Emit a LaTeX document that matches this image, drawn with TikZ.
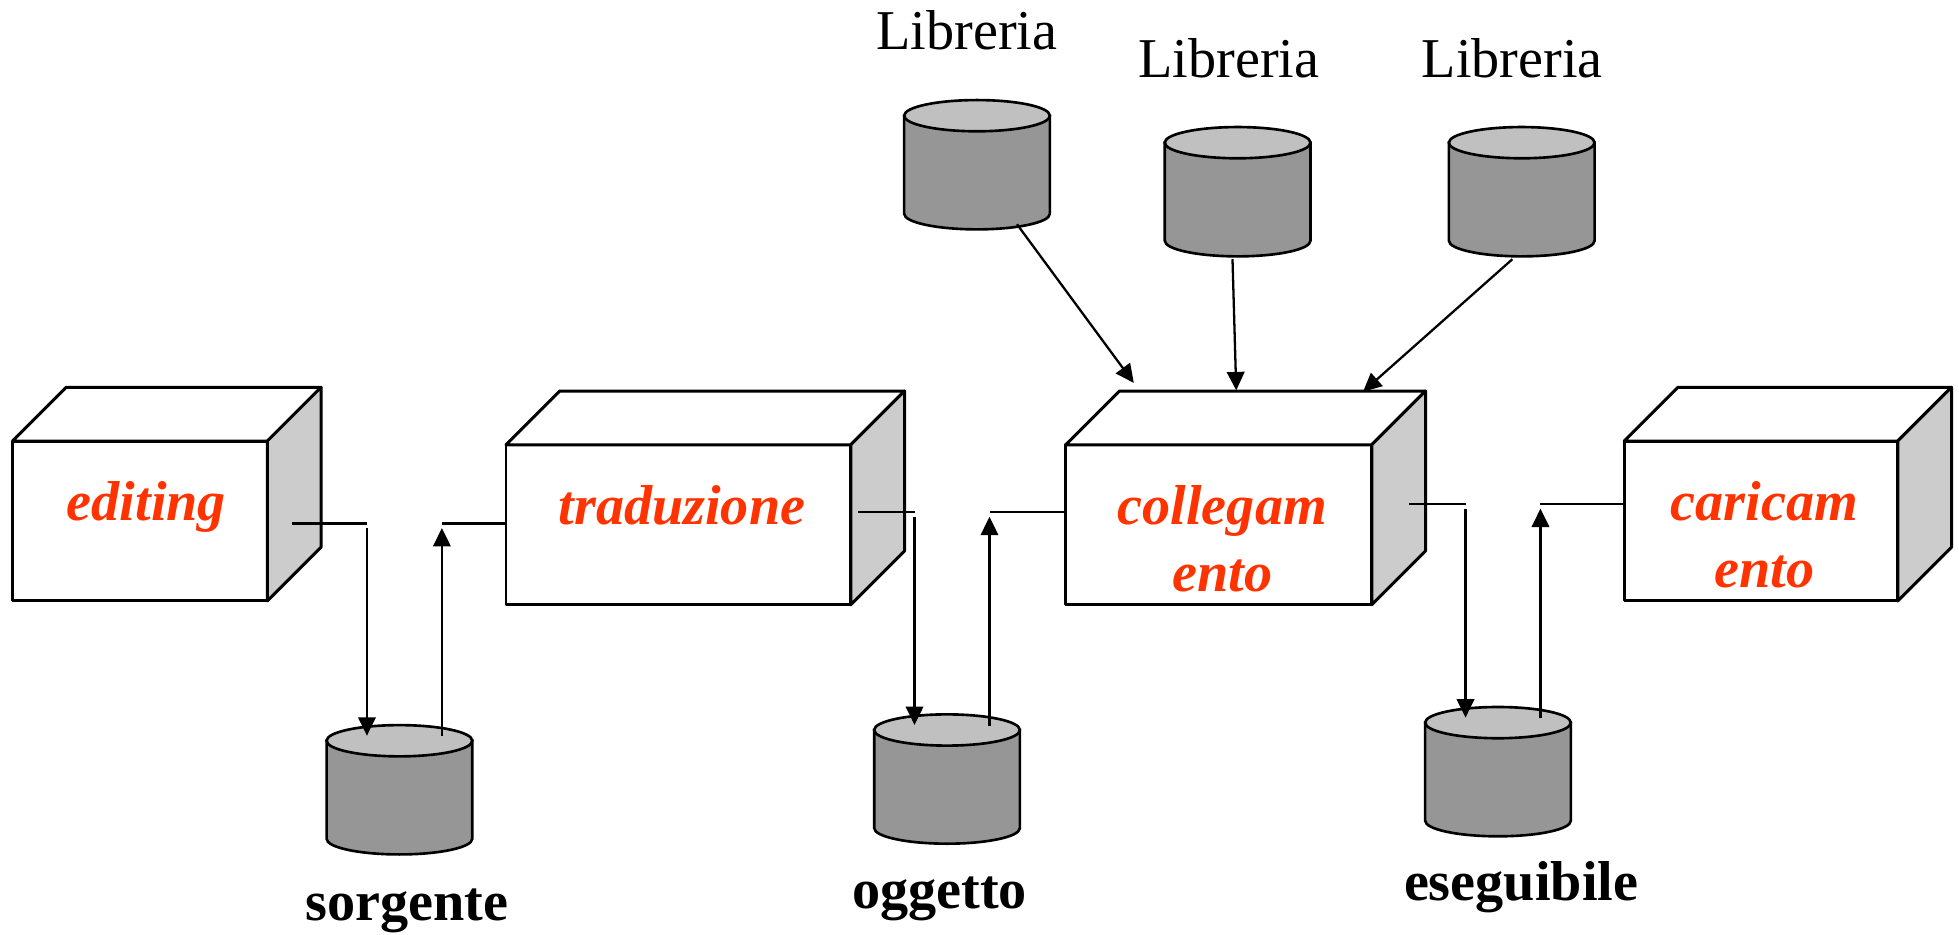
\documentclass[tikz,border=0pt]{standalone}
\usepackage{fontspec}
\setmainfont{Liberation Serif}
\usetikzlibrary{arrows.meta}
\definecolor{jobred}{RGB}{255,51,0}
\definecolor{sidegray}{RGB}{204,204,204}
\definecolor{diskgray}{RGB}{150,150,150}
\definecolor{disktopgray}{RGB}{192,192,192}
\tikzset{
  face/.style={draw, line width=0.85pt, fill=white, line join=round},
  sideface/.style={face, fill=sidegray},
  disk/.style={draw, line width=0.75pt, fill=diskgray},
  disktop/.style={disk, fill=disktopgray},
  wire/.style={line width=0.65pt},
  flow/.style={wire, -{Triangle[length=1.85mm,width=1.75mm]}},
  job/.style={anchor=base, inner sep=0pt, xshift=0.35mm, text=jobred, font=\fontsize{16}{19}\selectfont\bfseries\itshape},
  store/.style={anchor=base, inner sep=0pt, font=\fontsize{16}{19}\selectfont\bfseries},
  lib/.style={anchor=base, inner sep=0pt, font=\fontsize{16}{19}\selectfont},
}

\begin{document}
\begin{tikzpicture}[x=0.125mm, y=-0.125mm]
  \useasboundingbox (0,0) rectangle (1568,748);

  % boxes: front, top and side face
  \foreach \n/\x/\y/\w in {edit/10/353/204, trad/405/356/276, coll/853/356/245, car/1300/353/219} {
    \draw [face] (\x,\y) rectangle ++(\w,128);
    \draw [face] (\x,\y) -- ++(43,-43) -- ++(\w,0) -- ++(-43,43) -- cycle;
    \draw [sideface] (\x+\w,\y) -- ++(43,-43) -- ++(0,128) -- ++(-43,43) -- cycle;
    \coordinate (\n) at (\x+\w/2,\y+64);
  }

  \node [job, xshift=0.3mm] (editing) at (edit) {editing};
  \node [job] (traduzione) at (trad) {traduzione};
  \node [job] (collegamento) at (coll) {\begin{tabular}[t]{@{}c@{}}collegam\\ento\end{tabular}};
  \node [job] (caricamento) at (car) {\begin{tabular}[t]{@{}c@{}}caricam\\ento\end{tabular}};

  % disks
  \foreach \n/\cx/\cy in {lib1/782/92.6, lib2/990.6/114.2, lib3/1218/114.2, src/319.7/592.9, obj/758/584.3, exe/1199/578.4} {
    \draw [disk] (\cx-58.3,\cy) -- ++(0,78.5) arc [start angle=180, end angle=0, x radius=58.3, y radius=12.5] -- ++(0,-78.5) -- cycle;
    \draw [disktop] (\cx,\cy) ellipse [x radius=58.3, y radius=12.5];
    \coordinate (\n-in) at (\cx-26,\cy-4);
    \coordinate (\n-out) at (\cx+34,\cy-3.5);
  }

  \node [lib] (libreria1) at (774,39.5) {Libreria};
  \node [lib] (libreria2) at (983.5,62) {Libreria};
  \node [lib] (libreria3) at (1210.5,62) {Libreria};

  \node [store] (sorgente) at (325.5,736.5) {sorgente};
  \node [store] (oggetto) at (752,727) {oggetto};
  \node [store] (eseguibile) at (1217.5,720.5) {eseguibile};

  % ends on the boxes
  \coordinate (edit-out) at (234,419);
  \coordinate (trad-in) at (405,419);
  \coordinate (trad-out) at (687,410);
  \coordinate (coll-in) at (852,410);
  \coordinate (coll-out) at (1128,403.5);
  \coordinate (car-in) at (1299,403.5);

  \foreach \a/\d/\b in {edit/src/trad, trad/obj/coll, coll/exe/car} {
    \draw [wire] (\a-out) -- (\d-in |- \a-out);
    \draw [flow, shorten <=0.45mm] (\d-in |- \a-out) -- (\d-in);
    \draw [flow, shorten >=0.45mm] (\d-out) -- (\d-out |- \b-in);
    \draw [wire] (\d-out |- \b-in) -- (\b-in);
  }

  % libraries into the linker
  \coordinate (lib1-foot) at (814,179.5);
  \coordinate (lib2-foot) at (986.5,207.5);
  \coordinate (lib3-foot) at (1210.5,207.5);
  \coordinate (coll-top1) at (907.5,306.5);
  \coordinate (coll-top2) at (989.5,312.5);
  \coordinate (coll-top3) at (1091,313.5);
  \draw [flow] (lib1-foot) -- (coll-top1);
  \draw [flow] (lib2-foot) -- (coll-top2);
  \draw [flow] (lib3-foot) -- (coll-top3);

\end{tikzpicture}
\end{document}
